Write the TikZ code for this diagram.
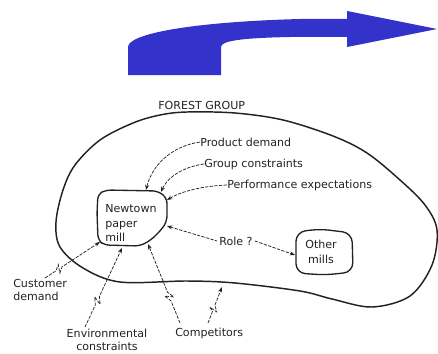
\documentclass[tikz,border=0pt]{standalone}
\usepackage{fontspec}
\setmainfont{DejaVu Sans}
\usetikzlibrary{arrows.meta,calc}
\definecolor{arrowblue}{HTML}{3333CC}
\definecolor{ink}{HTML}{222222}
\newcommand\breakline[5]{%
  \coordinate (#5p1) at ($(#1)!#3!(#2)$);
  \coordinate (#5p2) at ($(#1)!#4!(#2)$);
  \coordinate (#5m1) at ($(#1)!{#3+0.08}!(#2)$);
  \coordinate (#5m2) at ($(#1)!{#3+0.03}!(#2)$);
  \coordinate (#5q1) at ($(#5m1)!3pt!90:(#2)$);
  \coordinate (#5q2) at ($(#5m2)!3pt!-90:(#2)$);
  \draw[conn] (#1) -- (#5p1) -- (#5q1) -- (#5q2) -- (#5p2) -- (#2);
}
\begin{document}
\begin{tikzpicture}[x=0.75pt,y=-0.75pt,
  lbl/.style={font=\fontsize{8.3}{9.5}\selectfont, text=ink, inner sep=0pt},
  boxtext/.style={font=\fontsize{8.3}{11}\selectfont, text=ink, inner sep=0pt},
  conn/.style={draw=ink, line width=0.55pt, dash pattern=on 2.5pt off 1pt,
    -{Stealth[length=4pt,width=3pt]}},
  boxline/.style={draw=ink, line width=1pt},
]
\useasboundingbox (0,0) rectangle (438,353);

% blue curved arrow
\fill[arrowblue] (128,75) -- (128,47)
  .. controls (128,34) and (190,22) .. (300,19) -- (347,19) -- (347,11)
  -- (437,29) -- (347,47) -- (347,37) -- (290,37)
  .. controls (240,38) and (221,41) .. (221,47) -- (221,75) -- cycle;

% forest group outline
\draw[boxline, line width=1.1pt] plot[smooth cycle, tension=0.55] coordinates {
  (187,112) (235,113) (283,120) (333,136) (367,153) (400,180) (425,205)
  (437,230) (432,265) (410,296) (372,307) (332,299) (300,291) (235,283)
  (187,281) (120,282) (83,268) (60,247) (56,222) (63,190) (75,165)
  (100,140) (133,123) (160,115)};

% labels
\node[lbl, anchor=west] (fg) at (158,105) {FOREST GROUP};
\node[lbl, anchor=west] (pd) at (200,142) {Product demand};
\node[lbl, anchor=west] (gc) at (204,164) {Group constraints};
\node[lbl, anchor=west] (pe) at (227,185) {Performance expectations};
\node[lbl, inner sep=1.5pt] (role) at (236,241) {Role ?};
\node[lbl, align=left, anchor=north west] (cd) at (13,279) {Customer\\demand};
\node[lbl, align=center, anchor=north] (env) at (107,329) {Environmental\\constraints};
\node[lbl, anchor=west] (comp) at (175,333) {Competitors};

% Newtown paper mill
\draw[boxline, rounded corners=4pt] (97,212) -- (98,194) -- (106,190) -- (158,191)
  -- (167,198) -- (167,221) -- (162,229) -- (151,240) -- (140,246)
  -- (104,245) -- (98,240) -- cycle;
\node[boxtext, align=left, anchor=west] (mill) at (105,223) {Newtown\\paper\\mill};

% Other mills
\draw[boxline, rounded corners=7pt] (296,232) -- (320,229) -- (352,233) -- (353,272)
  -- (325,275) -- (296,273) -- cycle;
\node[boxtext, align=center] (om) at (321,252) {Other\\mills};

% connector endpoints
\coordinate (mtop1) at (146,190);
\coordinate (mtop2) at (161,192);
\coordinate (mright) at (167,200);
\coordinate (mrole) at (167,226);
\coordinate (omleft) at (295,255);
\coordinate (mbl) at (100,242);
\coordinate (mbot) at (122,248);
\coordinate (mbr) at (148,244);
\coordinate (fgbot) at (222,287);
\coordinate (cds) at (45,278);
\coordinate (envs) at (85,327);
\coordinate (comps1) at (180,323);
\coordinate (comps2) at (208,323);

% connectors
\draw[conn] (pd.west) .. controls (172,146) and (152,165) .. (mtop1);
\draw[conn] (gc.west) .. controls (182,167) and (167,178) .. (mtop2);
\draw[conn] (pe.west) .. controls (203,186) and (182,191) .. (mright);
\draw[conn, {Stealth[length=4pt,width=3pt]}-] (mrole) -- (role.west);
\draw[conn] (role.east) -- (omleft);
\breakline{cds}{mbl}{0.2}{0.31}{a}
\breakline{envs}{mbot}{0.28}{0.39}{b}
\breakline{comps1}{mbr}{0.28}{0.39}{c}
\breakline{comps2}{fgbot}{0.32}{0.5}{d}
\end{tikzpicture}
\end{document}
